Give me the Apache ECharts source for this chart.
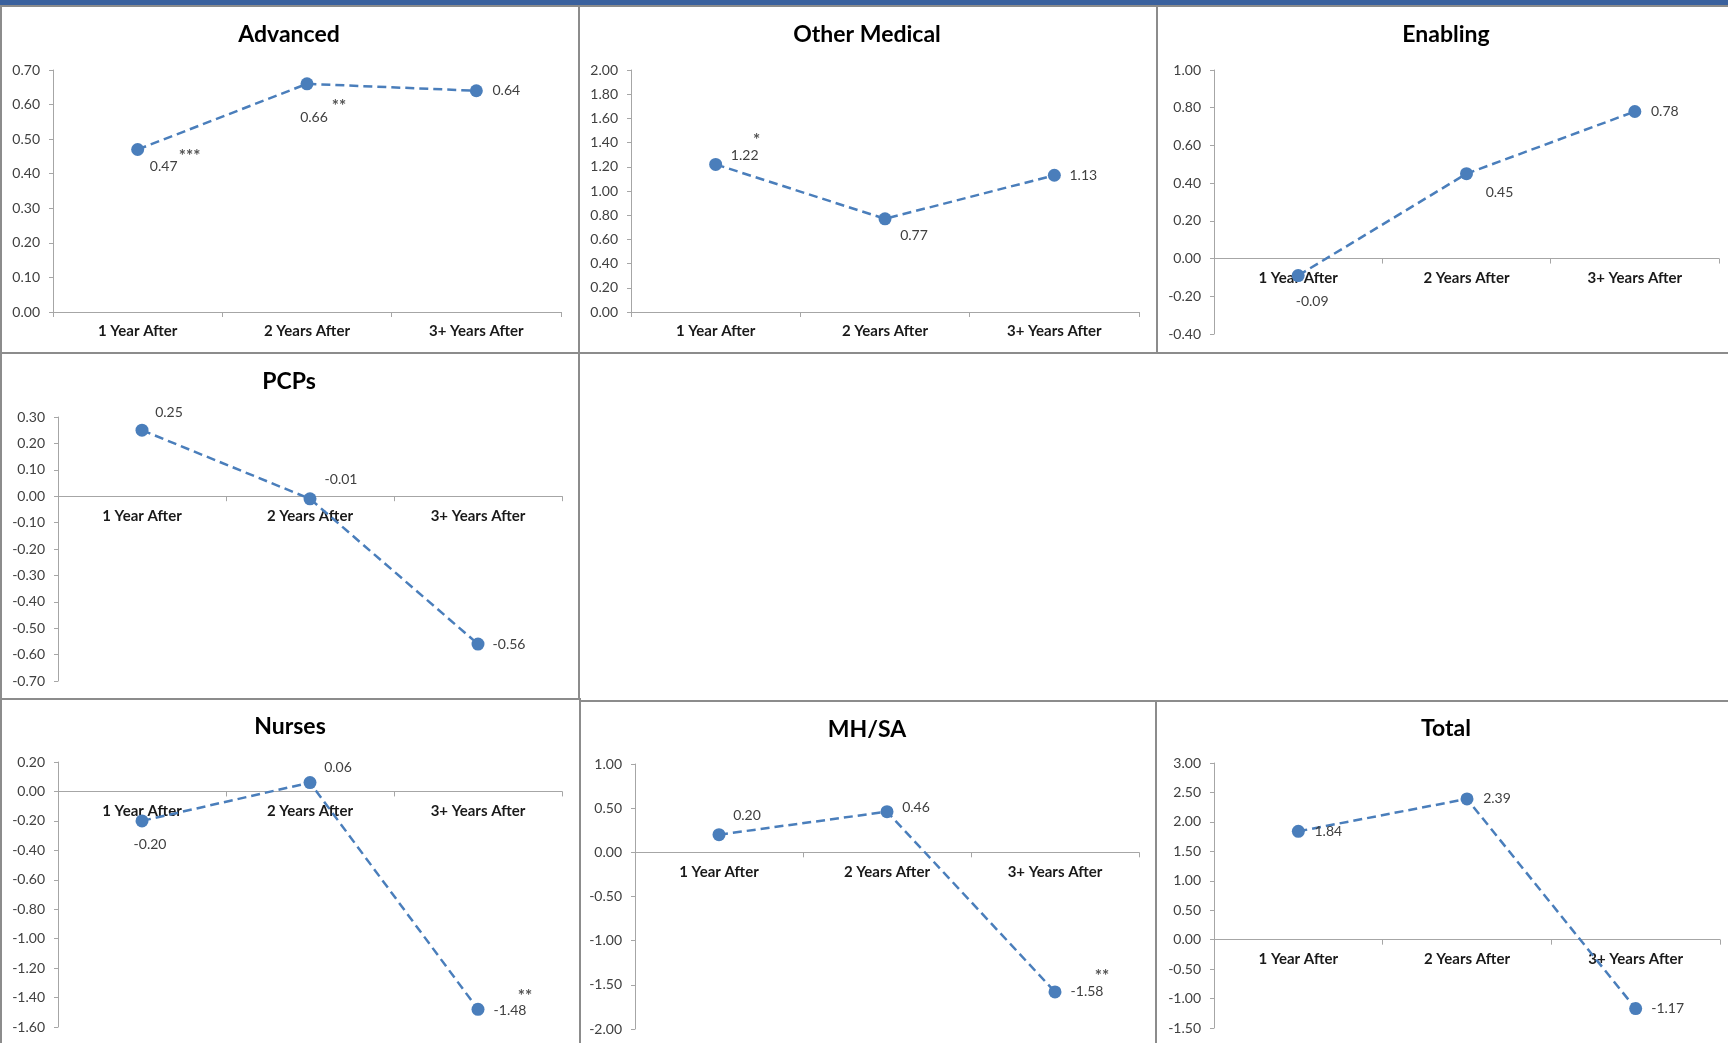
<!DOCTYPE html>
<html>
<head>
<meta charset="utf-8">
<title>Workforce change after award</title>
<script src="https://cdn.jsdelivr.net/npm/echarts@6/dist/echarts.min.js"></script>
<style>
  html, body { margin: 0; padding: 0; background: #ffffff; }
  #page { position: relative; width: 1728px; height: 1043px; overflow: hidden; background: #ffffff; }
  .band { position: absolute; left: 0; top: 0; width: 1728px; height: 5px; background: #3a619e; }
  .panel { position: absolute; box-sizing: border-box; border: 2px solid #8c8c8c; }
  #chart { position: absolute; left: 0; top: 0; width: 1728px; height: 1043px; }
</style>
</head>
<body>
<div id="page">
  <div class="band"></div>
  <div class="panel" style="left:0;top:5px;width:580px;height:349px"></div>
  <div class="panel" style="left:578px;top:5px;width:580px;height:349px"></div>
  <div class="panel" style="left:1156px;top:5px;width:600px;height:349px"></div>
  <div class="panel" style="left:0;top:352px;width:580px;height:348px"></div>
  <div class="panel" style="left:0;top:698px;width:581px;height:400px"></div>
  <div class="panel" style="left:579px;top:700px;width:578px;height:400px"></div>
  <div class="panel" style="left:1155px;top:700px;width:600px;height:400px"></div>
  <div id="chart"></div>
</div>
<script>
// Categories shared by every panel
const categories = ['1 Year After', '2 Years After', '3+ Years After'];

// Change in FTEs per panel
const advanced = [0.47, 0.66, 0.64];
const otherMedical = [1.22, 0.77, 1.13];
const enabling = [-0.09, 0.45, 0.78];
const pcps = [0.25, -0.01, -0.56];
const nurses = [-0.20, 0.06, -1.48];
const mhsa = [0.20, 0.46, -1.58];
const total = [1.84, 2.39, -1.17];

// Significance markers
const advancedSig = ['***', '**', ''];
const otherMedicalSig = ['*', '', ''];
const enablingSig = ['', '', ''];
const pcpsSig = ['', '', ''];
const nursesSig = ['', '', '**'];
const mhsaSig = ['', '', '**'];
const totalSig = ['', '', ''];

// Value-axis scales: [min, max, interval]
const advancedScale = [0, 0.7, 0.1];
const otherMedicalScale = [0, 2, 0.2];
const enablingScale = [-0.4, 1, 0.2];
const pcpsScale = [-0.7, 0.3, 0.1];
const nursesScale = [-1.6, 0.2, 0.2];
const mhsaScale = [-2, 1, 0.5];
const totalScale = [-1.5, 3, 0.5];

// Panel layout (pixels) and label placement
const panels = [
  { title: 'Advanced', values: advanced, sig: advancedSig, scale: advancedScale,
    grid: [53, 70, 508, 242], head: [289, 35],
    lab: [[26, 17], [7, 34], [30, 0]], sigOff: [[52, 7], [32, 23], null] },
  { title: 'Other Medical', values: otherMedical, sig: otherMedicalSig, scale: otherMedicalScale,
    grid: [631, 70, 508, 242], head: [867, 35],
    lab: [[29, -9], [29, 17], [29, 0]], sigOff: [[41, -24], null, null] },
  { title: 'Enabling', values: enabling, sig: enablingSig, scale: enablingScale,
    grid: [1214, 70, 505, 264], head: [1446, 35],
    lab: [[14, 26], [33, 19], [30, 0]], sigOff: [null, null, null] },
  { title: 'PCPs', values: pcps, sig: pcpsSig, scale: pcpsScale,
    grid: [58, 417, 504, 264], head: [289, 382],
    lab: [[27, -18], [31, -19], [31, 0]], sigOff: [null, null, null] },
  { title: 'Nurses', values: nurses, sig: nursesSig, scale: nursesScale,
    grid: [58, 762, 504, 265], head: [290, 727],
    lab: [[8, 24], [28, -15], [32, 1]], sigOff: [null, null, [47, -13]] },
  { title: 'MH/SA', values: mhsa, sig: mhsaSig, scale: mhsaScale,
    grid: [635, 764, 504, 265], head: [867, 730],
    lab: [[28, -19], [29, -4], [32, 0]], sigOff: [null, null, [47, -15]] },
  { title: 'Total', values: total, sig: totalSig, scale: totalScale,
    grid: [1214, 763, 506, 265], head: [1446, 729],
    lab: [[30, 0], [30, 0], [32, 0]], sigOff: [null, null, null] }
];

const FONT = 'Lato, "Open Sans", sans-serif';
const BLUE = '#4a7ebb';
const AXIS = '#a6a6a6';

const option = {
  animation: false,
  backgroundColor: 'transparent',
  title: [], grid: [], xAxis: [], yAxis: [], series: []
};

panels.forEach((p, i) => {
  option.title.push({
    text: p.title, left: p.head[0], top: p.head[1],
    textAlign: 'center', textVerticalAlign: 'middle', padding: 0,
    textStyle: { fontFamily: FONT, fontSize: 23, fontWeight: 'bold', color: '#000000' }
  });
  option.grid.push({
    left: p.grid[0], top: p.grid[1], width: p.grid[2], height: p.grid[3],
    containLabel: false, outerBoundsMode: 'none'
  });
  option.xAxis.push({
    type: 'category', gridIndex: i, data: categories, boundaryGap: true,
    axisLine: { onZero: false, lineStyle: { color: AXIS, width: 1 } },
    axisTick: { show: true, alignWithLabel: false, length: 5, lineStyle: { color: AXIS } },
    axisLabel: { interval: 0, margin: 12, fontFamily: FONT, fontSize: 15, fontWeight: 'bold', color: '#1a1a1a' },
    splitLine: { show: false }
  });
  option.yAxis.push({
    type: 'value', gridIndex: i, min: p.scale[0], max: p.scale[1], interval: p.scale[2],
    axisLine: { show: true, onZero: false, lineStyle: { color: AXIS, width: 1 } },
    axisTick: { show: true, length: 4, lineStyle: { color: AXIS } },
    axisLabel: { margin: 13, fontFamily: FONT, fontSize: 14, color: '#404040',
      formatter: v => v.toFixed(2) },
    splitLine: { show: false }
  });
  option.series.push({
    type: 'line', xAxisIndex: i, yAxisIndex: i,
    data: p.values.map((v, k) => ({ value: v, label: { offset: p.lab[k] } })),
    symbol: 'circle', symbolSize: 13,
    itemStyle: { color: BLUE },
    lineStyle: { color: BLUE, width: 2.5, type: [9, 5] },
    label: { show: true, position: 'inside', align: 'center', verticalAlign: 'middle',
      fontFamily: FONT, fontSize: 14, color: '#404040', formatter: d => d.value.toFixed(2) },
    emphasis: { disabled: true }, silent: true, z: 3
  });
  // significance stars sit beside their points
  option.series.push({
    type: 'scatter', xAxisIndex: i, yAxisIndex: i,
    data: p.values.map((v, k) => p.sig[k] ? { value: v, label: { offset: p.sigOff[k] } } : '-'),
    symbolSize: 1, itemStyle: { color: 'rgba(0,0,0,0)' },
    label: { show: true, position: 'inside', align: 'center', verticalAlign: 'middle',
      fontFamily: FONT, fontSize: 17, fontWeight: 'bold', color: '#262626',
      formatter: d => p.sig[d.dataIndex] },
    emphasis: { disabled: true }, silent: true, z: 4
  });
});

const chart = echarts.init(document.getElementById('chart'), null, { renderer: 'canvas' });
chart.setOption(option);

// Move each category axis (line, ticks and labels) up to the value axis zero
const shifted = panels.map((p, i) => {
  const zeroY = chart.convertToPixel({ yAxisIndex: i }, 0);
  const bottomY = chart.convertToPixel({ yAxisIndex: i }, p.scale[0]);
  return { offset: zeroY - bottomY };
});
chart.setOption({ xAxis: shifted });
</script>
</body>
</html>
